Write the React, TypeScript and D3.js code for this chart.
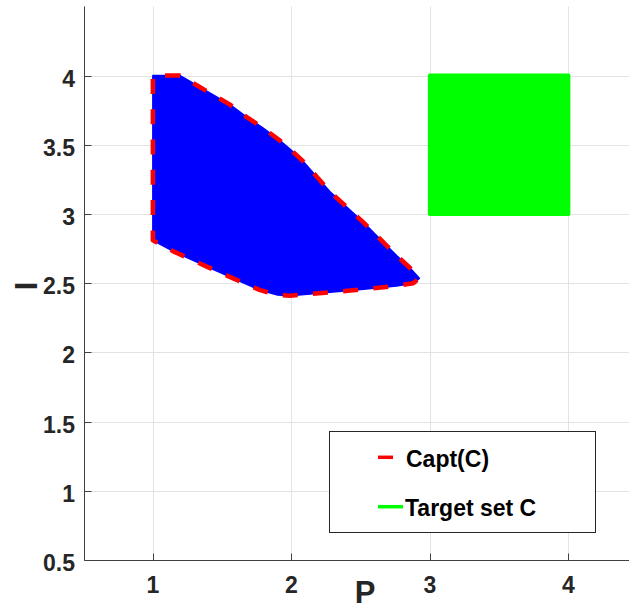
import React from "react";
import * as d3 from "d3";

// Boundary of Capt(C) (P, I)
const captP = [1.0, 1.0, 1.148, 1.389, 1.58, 1.774, 1.9, 1.99, 2.28, 2.52, 2.76, 2.88, 2.924, 2.857, 2.76, 2.64, 2.52, 2.40, 2.28, 2.183, 2.086, 1.99, 1.918, 1.797, 1.678, 1.557, 1.436, 1.317, 1.232, 1.196];
const captI = [4.0, 2.81, 2.73, 2.62, 2.535, 2.45, 2.415, 2.41, 2.434, 2.456, 2.48, 2.50, 2.535, 2.61, 2.70, 2.82, 2.94, 3.05, 3.16, 3.27, 3.38, 3.47, 3.53, 3.62, 3.70, 3.79, 3.86, 3.93, 3.98, 4.0];

// Target set C
const targetP = [3, 4];
const targetI = [3, 4];

const xTicks = [1, 2, 3, 4];
const yTicks = [0.5, 1, 1.5, 2, 2.5, 3, 3.5, 4];
const xDomain = [0.5, 4.5];
const yDomain = [0.5, 4.5];

const legendLabels = ["Capt(C)", "Target set C"];

const W = 629;
const H = 611;
const FONT = "'Liberation Sans', Arial, Helvetica, sans-serif";

export default function App() {
  const x = d3.scaleLinear().domain(xDomain).range([83.6, 637.6]);
  const y = d3.scaleLinear().domain(yDomain).range([560, 6.4]);

  const pts: [number, number][] = captP.map((p, i) => [p, captI[i]]);
  const line = d3
    .line<[number, number]>()
    .x((d) => x(d[0]))
    .y((d) => y(d[1]))
    .curve(d3.curveLinearClosed);
  const pathD = line(pts) || "";

  const axLeft = Math.round(x(xDomain[0])) + 0.5;
  const axBottom = Math.round(y(yDomain[0])) + 0.5;

  return (
    <svg
      width={W}
      height={H}
      style={{ position: "absolute", left: 0, top: 0, background: "#fff" }}
      fontFamily={FONT}
    >
      <rect x={0} y={0} width={W} height={H} fill="#fff" />
      {/* grid */}
      <g stroke="#e3e3e3" strokeWidth={1}>
        {xTicks.map((t) => (
          <line key={"gx" + t} x1={Math.round(x(t)) + 0.5} x2={Math.round(x(t)) + 0.5} y1={y(yDomain[1])} y2={axBottom} />
        ))}
        {yTicks
          .filter((t) => t > yDomain[0])
          .map((t) => (
            <line key={"gy" + t} x1={axLeft} x2={W} y1={Math.round(y(t)) + 0.5} y2={Math.round(y(t)) + 0.5} />
          ))}
      </g>

      {/* Capt(C) region */}
      <path d={pathD} fill="#0000ff" stroke="#0000ff" strokeWidth={1.5} strokeLinejoin="round" />
      <path
        d={pathD}
        fill="none"
        stroke="#ff0000"
        strokeWidth={4.5}
        strokeDasharray="15 15.3"
        strokeDashoffset={27}
        strokeLinejoin="round"
      />

      {/* Target set C */}
      <rect
        x={x(targetP[0])}
        y={y(targetI[1])}
        width={x(targetP[1]) - x(targetP[0])}
        height={y(targetI[0]) - y(targetI[1])}
        fill="#00ff00"
        stroke="#00ff00"
        strokeWidth={4}
        strokeLinejoin="round"
      />

      {/* axes */}
      <g stroke="#404040" strokeWidth={1} fill="none">
        <line x1={axLeft} x2={axLeft} y1={y(yDomain[1])} y2={axBottom} />
        <line x1={axLeft} x2={W} y1={axBottom} y2={axBottom} />
        {xTicks.map((t) => (
          <line key={"tx" + t} x1={Math.round(x(t)) + 0.5} x2={Math.round(x(t)) + 0.5} y1={axBottom} y2={axBottom - 7} />
        ))}
        {yTicks.map((t) => (
          <line key={"ty" + t} x1={axLeft} x2={axLeft + 7} y1={Math.round(y(t)) + 0.5} y2={Math.round(y(t)) + 0.5} />
        ))}
      </g>

      {/* tick labels */}
      <g fill="#262626" fontWeight="bold" fontSize={23}>
        {xTicks.map((t) => (
          <text key={"lx" + t} x={x(t)} y={593} textAnchor="middle">
            {d3.format("")(t)}
          </text>
        ))}
        {yTicks.map((t) => (
          <text key={"ly" + t} x={75} y={y(t) + 11} textAnchor="end">
            {String(t)}
          </text>
        ))}
      </g>

      {/* axis labels */}
      <text x={365} y={603} textAnchor="middle" fontWeight="bold" fontSize={31} fill="#262626">
        P
      </text>
      <text
        transform={`translate(36.5,286) rotate(-90)`}
        textAnchor="middle"
        fontWeight="bold"
        fontSize={32}
        fill="#262626"
      >
        I
      </text>

      {/* legend */}
      <rect x={329.5} y={431.5} width={266} height={101} fill="#fff" stroke="#262626" strokeWidth={1} />
      <line x1={378} x2={403} y1={457.3} y2={457.3} stroke="#ff0000" strokeWidth={3.5} strokeDasharray="15 15" />
      <text x={406} y={466.5} fontWeight="bold" fontSize={23} fill="#000">
        {legendLabels[0]}
      </text>
      <line x1={378} x2={403} y1={506.7} y2={506.7} stroke="#00ff00" strokeWidth={3.5} />
      <text x={405} y={516} fontWeight="bold" fontSize={23} fill="#000">
        {legendLabels[1]}
      </text>
    </svg>
  );
}
